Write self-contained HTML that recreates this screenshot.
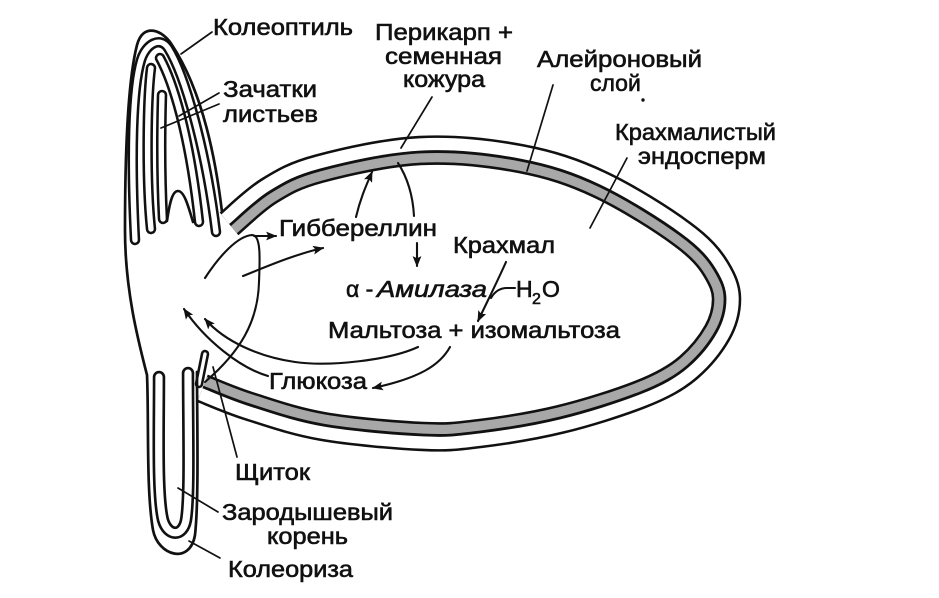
<!DOCTYPE html>
<html>
<head>
<meta charset="utf-8">
<style>
  html,body{margin:0;padding:0;background:#fff;}
  svg{display:block;}
  text{font-family:"Liberation Sans","DejaVu Sans",sans-serif;font-size:23px;fill:#111;stroke:#111;stroke-width:0.6;}
</style>
</head>
<body>
<svg width="939" height="598" viewBox="0 0 939 598" xmlns="http://www.w3.org/2000/svg">
<defs>
  <path id="C" d="M230,225 C236.7,219.5 255,201.2 270,192 C285,182.8 295,176.7 320,170 C345,163.3 386.7,153.7 420,152 C453.3,150.3 490,154.3 520,160 C550,165.7 573.3,173.3 600,186 C626.7,198.7 661.2,220.3 681,235 C699.8,248.7 708.5,259.2 715,270 C721.5,280.8 724.8,288.7 725,298 C725.2,308.3 722.8,320 716,332 C709.2,344 700,355.5 688,366 C676,376.5 661.7,384.5 640,393 C618.3,401.5 586.7,411.5 560,418 C533.3,424.5 502.8,429.2 480,432 C457.2,434.8 449.2,436.2 423,435 C396.8,433.8 351.8,430 323,425 C294.2,420 270,411.3 250,405 C230,398.7 210.8,390 203,387"/>
  <clipPath id="cin">
    <path d="M230,225 C236.7,219.5 255,201.2 270,192 C285,182.8 295,176.7 320,170 C345,163.3 386.7,153.7 420,152 C453.3,150.3 490,154.3 520,160 C550,165.7 573.3,173.3 600,186 C626.7,198.7 661.2,220.3 681,235 C699.8,248.7 708.5,259.2 715,270 C721.5,280.8 724.8,288.7 725,298 C725.2,308.3 722.8,320 716,332 C709.2,344 700,355.5 688,366 C676,376.5 661.7,384.5 640,393 C618.3,401.5 586.7,411.5 560,418 C533.3,424.5 502.8,429.2 480,432 C457.2,434.8 449.2,436.2 423,435 C396.8,433.8 351.8,430 323,425 C294.2,420 270,411.3 250,405 C230,398.7 210.8,390 203,387 Z"/>
  </clipPath>
  <clipPath id="cout">
    <path clip-rule="evenodd" d="M-5,-5 H945 V605 H-5 Z M230,225 C236.7,219.5 255,201.2 270,192 C285,182.8 295,176.7 320,170 C345,163.3 386.7,153.7 420,152 C453.3,150.3 490,154.3 520,160 C550,165.7 573.3,173.3 600,186 C626.7,198.7 661.2,220.3 681,235 C699.8,248.7 708.5,259.2 715,270 C721.5,280.8 724.8,288.7 725,298 C725.2,308.3 722.8,320 716,332 C709.2,344 700,355.5 688,366 C676,376.5 661.7,384.5 640,393 C618.3,401.5 586.7,411.5 560,418 C533.3,424.5 502.8,429.2 480,432 C457.2,434.8 449.2,436.2 423,435 C396.8,433.8 351.8,430 323,425 C294.2,420 270,411.3 250,405 C230,398.7 210.8,390 203,387 Z"/>
  </clipPath>
  <marker id="ah" viewBox="0 0 10 8" markerWidth="11" markerHeight="9" refX="9" refY="4" orient="auto" markerUnits="userSpaceOnUse">
    <path d="M0,0 L10,4 L0,8 L2,4 Z" fill="#111"/>
  </marker>
</defs>

<rect width="939" height="598" fill="#fff"/>

<!-- Grain layers -->
<g fill="none">
  <use href="#C" stroke="#111" stroke-width="32.5" clip-path="url(#cout)"/>
  <use href="#C" stroke="#fff" stroke-width="27.4" clip-path="url(#cout)"/>
  <use href="#C" stroke="#111" stroke-width="26.5" clip-path="url(#cin)"/>
  <use href="#C" stroke="#a8a8a8" stroke-width="21.4" clip-path="url(#cin)"/>
  <use href="#C" stroke="#111" stroke-width="2.8"/>
</g>

<!-- Embryo tubes -->
<g fill="none" stroke-linecap="round" stroke-linejoin="round">
  <path d="M135,240 C131,160 132,90 141,60 C146,44 160,36 168,48 C185,75 206,150 216,232" stroke="#111" stroke-width="10.5"/>
  <path d="M135,240 C131,160 132,90 141,60 C146,44 160,36 168,48 C185,75 206,150 216,232" stroke="#fff" stroke-width="5.4"/>
  <path d="M160,58 C172,80 189,130 199,222" stroke="#111" stroke-width="10.5"/>
  <path d="M160,58 C172,80 189,130 199,222" stroke="#fff" stroke-width="5.4"/>
  <path d="M151,68 C147,100 146,180 151,229" stroke="#111" stroke-width="10.5"/>
  <path d="M151,68 C147,100 146,180 151,229" stroke="#fff" stroke-width="5.4"/>
  <path d="M162,95 C161,130 161,180 163,219" stroke="#111" stroke-width="10.5"/>
  <path d="M162,95 C161,130 161,180 163,219" stroke="#fff" stroke-width="5.4"/>
  <path d="M159,377 C159,430 157,495 163,520 C168,537 183,537 186,520 C190,495 188,430 188,373" stroke="#111" stroke-width="12.5"/>
  <path d="M159,377 C159,430 157,495 163,520 C168,537 183,537 186,520 C190,495 188,430 188,373" stroke="#fff" stroke-width="7.2"/>
  <path d="M199,384 L205,354" stroke="#111" stroke-width="8.5"/>
  <path d="M199,384 L205,354" stroke="#fff" stroke-width="3.4"/>
  <path d="M167,221 C170,200 173,191 178,191 C184,191 188,205 193,222" stroke="#111" stroke-width="2.6"/>
  <!-- embryo outline -->
  <path d="M222,212 C217,170 205,95 172,45 C163,30 143,22 137,45 C128,80 125,150 125,230 C125,290 138,340 147,375 C149,420 146,490 153,530 C158,556 190,565 195,535 C199,500 197,420 197,372" stroke="#111" stroke-width="2.7"/>
</g>

<!-- Arrows and process curves -->
<g fill="none" stroke="#111" stroke-width="2.1" stroke-linecap="round">
  <path d="M356,217 C360,200 365,188 372,172" marker-end="url(#ah)"/>
  <path d="M398,163 C409,180 413,198 414,216"/>
  <path d="M417,243 L417,266" marker-end="url(#ah)"/>
  <path d="M243,276 C268,266 296,254 323,248" marker-end="url(#ah)"/>
  <path d="M205,278 C220,255 238,236 252,235 C261,235 260,258 259,282 C258,322 240,352 205,382"/>
  <path d="M254,236 L276,236" marker-end="url(#ah)"/>
  <path d="M268,376 C240,368 205,340 184,309" marker-end="url(#ah)"/>
  <path d="M418,347 C390,360 330,367 295,362 C260,357 225,342 205,319" marker-end="url(#ah)"/>
  <path d="M450,347 C440,365 420,378 373,388" marker-end="url(#ah)"/>
  <path d="M506,262 C498,280 488,300 478,321" marker-end="url(#ah)"/>
  <path d="M491,298 C495,291 500,288 507,288 L515,288"/>
</g>

<!-- Leader lines -->
<g fill="none" stroke="#111" stroke-width="1.7" stroke-linecap="round">
  <path d="M212,32 L181,54"/>
  <path d="M219,93 L179,116"/>
  <path d="M219,104 L161,128"/>
  <path d="M432,97 L401,148"/>
  <path d="M553,85 L527,171"/>
  <path d="M627,158 L590,228"/>
  <path d="M213,367 C222,400 230,430 237,457"/>
  <path d="M218,512 L178,488"/>
  <path d="M220,558 L189,541"/>
</g>
<circle cx="643" cy="100" r="1.7" fill="#111"/>

<!-- Labels -->
<text x="213" y="35" textLength="140" lengthAdjust="spacingAndGlyphs">Колеоптиль</text>
<text x="223" y="97" textLength="94" lengthAdjust="spacingAndGlyphs">Зачатки</text>
<text x="223" y="122" textLength="95" lengthAdjust="spacingAndGlyphs">листьев</text>
<text x="375" y="40" textLength="138" lengthAdjust="spacingAndGlyphs">Перикарп +</text>
<text x="385" y="64" textLength="117" lengthAdjust="spacingAndGlyphs">семенная</text>
<text x="403" y="87" textLength="82" lengthAdjust="spacingAndGlyphs">кожура</text>
<text x="537" y="67" textLength="165" lengthAdjust="spacingAndGlyphs">Алейроновый</text>
<text x="590" y="91">слой</text>
<text x="615" y="140" textLength="161" lengthAdjust="spacingAndGlyphs">Крахмалистый</text>
<text x="638" y="164" textLength="128" lengthAdjust="spacingAndGlyphs">эндосперм</text>
<text x="279" y="236" textLength="158" lengthAdjust="spacingAndGlyphs">Гиббереллин</text>
<text x="453" y="253" textLength="102" lengthAdjust="spacingAndGlyphs">Крахмал</text>
<text x="346" y="297">α -</text>
<text x="377" y="297" font-style="italic" textLength="110" lengthAdjust="spacingAndGlyphs">Амилаза</text>
<text x="516" y="297">H</text>
<text x="532" y="304" style="font-size:16px">2</text>
<text x="542" y="297">O</text>
<text x="328" y="338" textLength="292" lengthAdjust="spacingAndGlyphs">Мальтоза + изомальтоза</text>
<text x="269" y="389" textLength="98" lengthAdjust="spacingAndGlyphs">Глюкоза</text>
<text x="235" y="480" textLength="75" lengthAdjust="spacingAndGlyphs">Щиток</text>
<text x="222" y="520" textLength="171" lengthAdjust="spacingAndGlyphs">Зародышевый</text>
<text x="267" y="544" textLength="81" lengthAdjust="spacingAndGlyphs">корень</text>
<text x="228" y="577" textLength="125" lengthAdjust="spacingAndGlyphs">Колеориза</text>
</svg>
</body>
</html>
